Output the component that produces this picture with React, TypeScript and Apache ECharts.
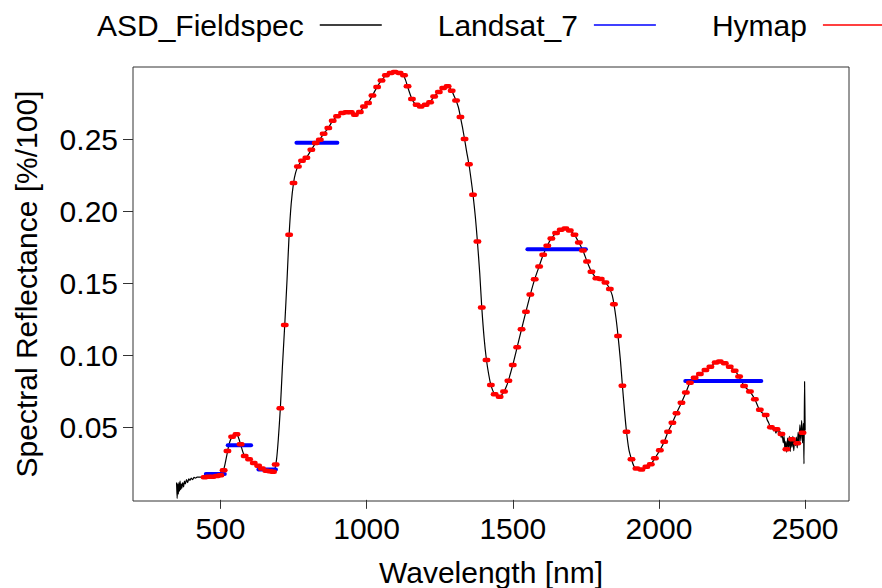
import React, { useEffect, useRef } from "react";
import * as echarts from "echarts";

// ASD Fieldspec spectrum: wavelength [nm], reflectance
const asdWavelength = [
  350, 352, 354, 356, 358, 360, 362, 364, 366, 368, 371, 374, 377, 380, 384, 388, 392, 396, 400, 405,
  410, 415, 420, 430, 440, 450, 460, 475, 490, 500, 508, 515, 522, 530, 540, 548, 555, 562, 570, 578,
  585, 595, 605, 615, 630, 645, 660, 675, 685, 692, 698, 705, 712, 720, 728, 735, 742, 750, 757, 765,
  779, 794, 811, 826, 840, 853, 869, 884, 899, 916, 931, 946, 960, 977, 991, 1005, 1020, 1036, 1051, 1066,
  1082, 1096, 1113, 1125, 1133, 1140, 1148, 1155, 1163, 1171, 1185, 1202, 1217, 1231, 1247, 1262, 1277, 1291, 1300, 1306,
  1314, 1321, 1328, 1335, 1342, 1350, 1357, 1364, 1372, 1379, 1387, 1394, 1402, 1410, 1418, 1425, 1432, 1438, 1446, 1455,
  1462, 1470, 1478, 1485, 1500, 1515, 1530, 1545, 1560, 1575, 1590, 1604, 1618, 1632, 1648, 1664, 1680, 1695, 1711, 1726,
  1740, 1754, 1769, 1778, 1786, 1793, 1801, 1808, 1817, 1825, 1832, 1840, 1846, 1853, 1860, 1868, 1875, 1882, 1889, 1897,
  1906, 1914, 1923, 1930, 1940, 1957, 1972, 1986, 2003, 2018, 2031, 2046, 2060, 2077, 2092, 2106, 2122, 2140, 2159, 2176,
  2194, 2208, 2225, 2242, 2259, 2274, 2291, 2311, 2328, 2340, 2345, 2350, 2356, 2361, 2365, 2370, 2375, 2379, 2383, 2387,
  2392, 2396, 2400, 2405, 2410, 2414, 2418, 2421, 2425, 2428, 2431, 2434, 2437, 2440, 2443, 2446, 2449, 2452, 2455, 2458,
  2461, 2464, 2467, 2470, 2473, 2476, 2479, 2482, 2485, 2488, 2491, 2494, 2496, 2498, 2500,
];
const asdReflectance = [
  0.012, 0.001, 0.011, 0.004, 0.012, 0.006, 0.013, 0.007, 0.011, 0.008, 0.012, 0.009, 0.013, 0.011, 0.014, 0.012, 0.0145, 0.0135, 0.015, 0.014,
  0.0155, 0.015, 0.0158, 0.0157, 0.016, 0.0158, 0.016, 0.016, 0.0166, 0.0172, 0.019, 0.024, 0.031, 0.039, 0.0438, 0.0455, 0.0457, 0.043, 0.0378, 0.0325,
  0.0298, 0.0283, 0.027, 0.0254, 0.0236, 0.0215, 0.0201, 0.0196, 0.0205, 0.028, 0.042, 0.0635, 0.092, 0.1212, 0.153, 0.1836, 0.205, 0.2195, 0.2265, 0.231,
  0.235, 0.2372, 0.2426, 0.2472, 0.2497, 0.2537, 0.2576, 0.2627, 0.2657, 0.268, 0.2685, 0.2684, 0.2668, 0.2687, 0.2726, 0.275, 0.2802, 0.2861, 0.2906, 0.2941,
  0.2958, 0.2966, 0.2958, 0.2945, 0.291, 0.2865, 0.2815, 0.2777, 0.275, 0.2738, 0.2726, 0.2738, 0.2756, 0.2795, 0.2826, 0.2854, 0.2865, 0.2835, 0.2795, 0.2767,
  0.272, 0.2652, 0.258, 0.25, 0.2415, 0.2325, 0.2225, 0.2114, 0.196, 0.179, 0.157, 0.1332, 0.112, 0.0969, 0.0865, 0.0796, 0.0755, 0.0732, 0.0718, 0.0715,
  0.0728, 0.075, 0.0785, 0.0826, 0.0935, 0.1058, 0.1182, 0.1304, 0.1422, 0.1529, 0.1617, 0.1698, 0.1761, 0.1811, 0.1848, 0.1871, 0.1882, 0.1866, 0.1836, 0.1783,
  0.1727, 0.1651, 0.158, 0.1555, 0.1536, 0.154, 0.1528, 0.1522, 0.1506, 0.1485, 0.146, 0.1418, 0.1356, 0.126, 0.1136, 0.097, 0.0791, 0.062, 0.0472, 0.035,
  0.0281, 0.0235, 0.0218, 0.0212, 0.0211, 0.0229, 0.0246, 0.0288, 0.0344, 0.0403, 0.0472, 0.0535, 0.06, 0.0673, 0.0743, 0.0812, 0.0846, 0.0872, 0.09, 0.0923,
  0.0951, 0.0958, 0.0947, 0.0923, 0.0895, 0.0854, 0.0789, 0.075, 0.0697, 0.064, 0.0625, 0.0608, 0.0598, 0.0578, 0.059, 0.0555, 0.0535, 0.0512, 0.049, 0.0505,
  0.0478, 0.0495, 0.0462, 0.0488, 0.046, 0.0475, 0.043, 0.0465, 0.0395, 0.044, 0.0345, 0.0405, 0.033, 0.0428, 0.036, 0.044, 0.0335, 0.0425, 0.0365, 0.044,
  0.034, 0.0415, 0.0375, 0.0435, 0.036, 0.047, 0.0385, 0.052, 0.041, 0.055, 0.0395, 0.053, 0.025, 0.082, 0.048,
];

// Landsat 7 ETM+ bands: start, end [nm], mean reflectance
const landsatStart = [450, 525, 630, 760, 1550, 2090];
const landsatEnd = [515, 605, 690, 900, 1750, 2350];
const landsatReflectance = [0.0179, 0.0378, 0.0211, 0.2474, 0.1737, 0.0824];

// HyMap band centres [nm] and reflectance
const hymapWavelength = [
  446, 458, 473, 488, 500, 511, 524, 540, 555, 569, 583, 598, 614, 629, 642, 657, 669, 680, 689, 705,
  720, 735, 750, 765, 779, 794, 811, 826, 840, 853, 869, 884, 899, 916, 931, 946, 960, 977, 991, 1005,
  1020, 1036, 1051, 1066, 1082, 1096, 1113, 1128, 1140, 1155, 1171, 1185, 1202, 1217, 1231, 1247, 1262, 1277, 1291, 1306,
  1321, 1335, 1350, 1364, 1379, 1394, 1410, 1425, 1438, 1455, 1470, 1485, 1500, 1515, 1530, 1545, 1560, 1575, 1590, 1604,
  1618, 1632, 1648, 1664, 1680, 1695, 1711, 1726, 1740, 1754, 1769, 1786, 1801, 1817, 1832, 1846, 1860, 1875, 1889, 1906,
  1923, 1940, 1957, 1972, 1986, 2003, 2018, 2031, 2046, 2060, 2077, 2092, 2106, 2122, 2140, 2159, 2176, 2194, 2208, 2225,
  2242, 2259, 2274, 2291, 2311, 2328, 2345, 2365, 2383, 2402, 2419, 2436, 2455, 2473, 2491,
];
const hymapReflectance = [
  0.0156, 0.016, 0.016, 0.0165, 0.017, 0.0205, 0.0338, 0.0438, 0.0455, 0.0385, 0.0304, 0.0281, 0.0255, 0.0237, 0.0218, 0.0202, 0.0198, 0.0195, 0.0245, 0.0635,
  0.1212, 0.1836, 0.2195, 0.231, 0.235, 0.237, 0.2426, 0.2472, 0.2495, 0.2537, 0.2576, 0.2627, 0.2657, 0.268, 0.2685, 0.2685, 0.2668, 0.2687, 0.2726, 0.275,
  0.2802, 0.2861, 0.2906, 0.2941, 0.2958, 0.2965, 0.2958, 0.2941, 0.2865, 0.2777, 0.2738, 0.2726, 0.2738, 0.2754, 0.2795, 0.2826, 0.2854, 0.2865, 0.2835, 0.2767,
  0.2652, 0.25, 0.2325, 0.2114, 0.179, 0.1332, 0.0969, 0.0796, 0.0732, 0.0715, 0.075, 0.0826, 0.0935, 0.1058, 0.1182, 0.1304, 0.1422, 0.1529, 0.1617, 0.1698,
  0.1761, 0.1811, 0.1848, 0.1871, 0.188, 0.1866, 0.1836, 0.1783, 0.1727, 0.1651, 0.158, 0.1536, 0.1531, 0.1506, 0.146, 0.1356, 0.1136, 0.0791, 0.0472, 0.0281,
  0.0218, 0.0211, 0.0229, 0.0246, 0.0288, 0.0344, 0.0403, 0.0472, 0.0535, 0.06, 0.0673, 0.0743, 0.0812, 0.0846, 0.0872, 0.09, 0.0923, 0.0951, 0.0958, 0.0947,
  0.0923, 0.0895, 0.0854, 0.0789, 0.075, 0.0697, 0.0625, 0.0588, 0.0503, 0.0489, 0.0456, 0.035, 0.042, 0.0392, 0.0465,
];

const xTicks = [500, 1000, 1500, 2000, 2500];
const yTicks = [0.05, 0.1, 0.15, 0.2, 0.25];

const FONT = "Liberation Sans";
const FS = 30;

export default function App() {
  const ref = useRef<HTMLDivElement>(null);
  useEffect(() => {
    document.body.style.margin = "0";
    const chart = echarts.init(ref.current!, null, { renderer: "svg" });
    const hymapHalf = 6;
    chart.setOption({
      animation: false,
      backgroundColor: "#ffffff",
      textStyle: { fontFamily: FONT },
      legend: {
        show: true,
        left: 92,
        top: 5,
        align: "right",
        itemGap: 56,
        itemWidth: 62,
        itemHeight: 1.5,
        textStyle: { fontFamily: FONT, fontSize: FS, color: "#000", padding: [0, 11, 0, 0] },
        data: [
          { name: "ASD_Fieldspec", icon: "rect", itemStyle: { color: "#000000" } },
          { name: "Landsat_7", icon: "rect", itemStyle: { color: "#0000ff" } },
          { name: "Hymap", icon: "rect", itemStyle: { color: "#ff0000" } },
        ],
      },
      grid: {
        left: 133,
        right: 33,
        top: 67,
        bottom: 87,
        show: true,
        borderColor: "#333",
        borderWidth: 1,
        backgroundColor: "transparent",
        containLabel: false,
        outerBoundsMode: "none",
      },
      xAxis: {
        type: "value",
        min: 201,
        max: 2650,
        name: "Wavelength [nm]",
        nameLocation: "middle",
        nameGap: 56,
        nameTextStyle: { fontFamily: FONT, fontSize: FS, color: "#000" },
        axisLine: { show: false },
        splitLine: { show: false },
        axisTick: { show: true, customValues: xTicks, length: 9, lineStyle: { color: "#333" } },
        axisLabel: {
          customValues: xTicks,
          fontFamily: FONT,
          fontSize: FS,
          color: "#000",
          margin: 12,
          formatter: (v: number) => String(v),
        },
      },
      yAxis: {
        type: "value",
        min: -0.0008,
        max: 0.2999,
        name: "Spectral Reflectance [%/100]",
        nameLocation: "middle",
        nameRotate: 90,
        nameGap: 92,
        nameTextStyle: { fontFamily: FONT, fontSize: FS, color: "#000" },
        axisLine: { show: false },
        splitLine: { show: false },
        axisTick: { show: true, customValues: yTicks, length: 10, lineStyle: { color: "#333" } },
        axisLabel: {
          customValues: yTicks,
          fontFamily: FONT,
          fontSize: FS,
          color: "#000",
          margin: 15,
          formatter: (v: number) => v.toFixed(2),
        },
      },
      series: [
        {
          name: "ASD_Fieldspec",
          type: "line",
          data: asdWavelength.map((w, i) => [w, asdReflectance[i]]),
          showSymbol: false,
          symbol: "none",
          smooth: 0.25,
          lineStyle: { color: "#000000", width: 1.2 },
          itemStyle: { color: "#000000" },
          z: 2,
        },
        {
          name: "Landsat_7",
          type: "custom",
          itemStyle: { color: "#0000ff" },
          data: landsatStart.map((s, i) => [s, landsatEnd[i], landsatReflectance[i]]),
          renderItem: (params: any, api: any) => {
            const p1 = api.coord([api.value(0), api.value(2)]);
            const p2 = api.coord([api.value(1), api.value(2)]);
            return {
              type: "line",
              shape: { x1: p1[0], y1: p1[1], x2: p2[0], y2: p2[1] },
              style: { stroke: "#0000ff", lineWidth: 4, lineCap: "round" },
            };
          },
          z: 3,
        },
        {
          name: "Hymap",
          type: "custom",
          itemStyle: { color: "#ff0000" },
          data: hymapWavelength.map((w, i) => [w, hymapReflectance[i]]),
          renderItem: (params: any, api: any) => {
            const c = api.value(0);
            const v = api.value(1);
            const p1 = api.coord([c - hymapHalf, v]);
            const p2 = api.coord([c + hymapHalf, v]);
            return {
              type: "line",
              shape: { x1: p1[0], y1: p1[1], x2: p2[0], y2: p2[1] },
              style: { stroke: "#ff0000", lineWidth: 4.5, lineCap: "round" },
            };
          },
          z: 4,
        },
      ],
    });
    return () => chart.dispose();
  }, []);
  return <div ref={ref} style={{ width: 882, height: 588 }} />;
}
